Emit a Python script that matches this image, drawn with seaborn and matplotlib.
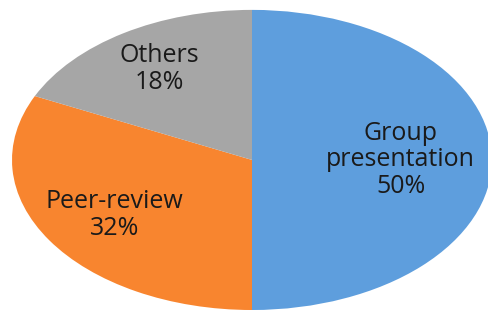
import numpy as np
import matplotlib
matplotlib.use("Agg")
import matplotlib.pyplot as plt
import seaborn as sns

categories = ["Group\npresentation", "Peer-review", "Others"]
shares = [50, 32, 18]
colors = ["#5E9EDD", "#F8852F", "#A6A6A6"]
label_dist = [0.62, 0.68, 0.72]

sns.set_theme(style="white")
plt.rcParams['font.family'] = ['Open Sans', 'DejaVu Sans']

fig = plt.figure(figsize=(4.88, 3.11), dpi=100)
# stretched pie: axes wider than tall, aspect left auto
ax = fig.add_axes([0.0246, 0.0032, 0.9836, 0.965])

labels = [f"{c}\n{v}%" for c, v in zip(categories, shares)]
wedges, texts = ax.pie(shares, labels=labels, colors=colors, startangle=90,
                       counterclock=False, radius=1,
                       wedgeprops=dict(linewidth=0),
                       textprops=dict(ha="center", va="center", fontsize=18,
                                      color="#1a1a1a", linespacing=1.1))
# move each label along its wedge's bisector
for w, t, d in zip(wedges, texts, label_dist):
    ang = np.deg2rad((w.theta1 + w.theta2) / 2)
    t.set_position((d * np.cos(ang), d * np.sin(ang)))

ax.set_aspect("auto")
ax.set_xlim(-1, 1)
ax.set_ylim(-1, 1)
ax.axis("off")

fig.savefig("out.png", dpi=100)
